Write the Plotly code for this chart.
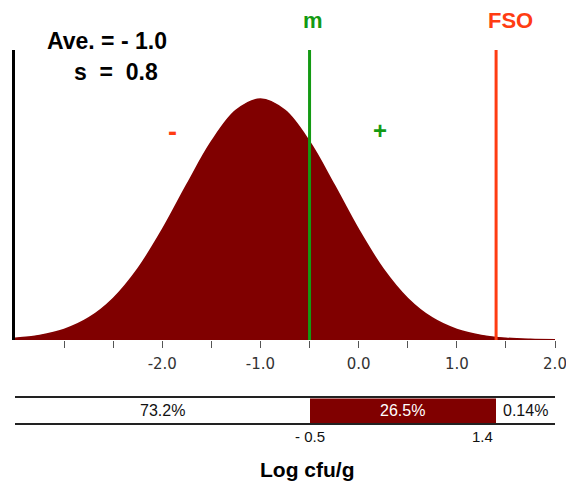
import plotly.graph_objects as go

# ---- data ----
mean_value = -1.0
sd_value = 0.8
curve_x = [-3.5, -3.25, -3.0, -2.75, -2.5, -2.25, -2.0, -1.75, -1.5, -1.25, -1.0,
           -0.75, -0.5, -0.25, 0.0, 0.25, 0.5, 0.75, 1.0, 1.25, 1.5, 1.75, 2.0]
curve_y = [0.0038, 0.0096, 0.0219, 0.0456, 0.0860, 0.1471, 0.2283, 0.3214, 0.4102, 0.4750, 0.4987,
           0.4750, 0.4102, 0.3214, 0.2283, 0.1471, 0.0860, 0.0456, 0.0219, 0.0096, 0.0038, 0.0014, 0.0004]
m_value = -0.5
fso_value = 1.4
tick_values = [-3.0, -2.5, -2.0, -1.5, -1.0, -0.5, 0.0, 0.5, 1.0, 1.5, 2.0]
tick_labels = ["", "", "-2.0", "", "-1.0", "", "0.0", "", "1.0", "", "2.0"]
segment_bounds = [-3.5, -0.5, 1.4, 2.0]
segment_labels = ["73.2%", "26.5%", "0.14%"]
x_range = [-3.5, 2.0]
y_range = [0, 0.6]

DARK_RED = "#800000"
GREEN = "#139a13"
ORANGE = "#ff3c12"
BOLD = "Liberation Sans, Arial, sans-serif"
REG = "Liberation Sans, Arial, sans-serif"

fig = go.Figure()

fig.add_trace(go.Scatter(
    x=curve_x, y=curve_y, mode="lines", line=dict(color=DARK_RED, width=1.5, shape="spline"),
    fill="tozeroy", fillcolor=DARK_RED, hoverinfo="skip", showlegend=False,
    xaxis="x", yaxis="y"))

starts = segment_bounds[:-1]
widths = [b - a for a, b in zip(segment_bounds[:-1], segment_bounds[1:])]
seg_colors = ["white", DARK_RED, "white"]
seg_text_colors = ["#111", "white", "#111"]
fig.add_trace(go.Bar(
    x=widths, base=starts, y=[0, 0, 0], orientation="h", width=1,
    marker=dict(color=seg_colors, line=dict(width=0)),
    hoverinfo="skip", showlegend=False, xaxis="x2", yaxis="y2"))

# vertical reference lines
fig.add_shape(type="line", xref="x", yref="y domain", x0=m_value, x1=m_value, y0=0, y1=1,
              line=dict(color=GREEN, width=3))
fig.add_shape(type="line", xref="x", yref="y domain", x0=fso_value, x1=fso_value, y0=0, y1=1,
              line=dict(color=ORANGE, width=3))

ann = []
for s, w, lab, col in zip(starts, widths, segment_labels, seg_text_colors):
    ann.append(dict(text=lab, xref="x2", yref="y2", x=s + w / 2, y=0,
                    xanchor="center", yanchor="middle", showarrow=False,
                    font=dict(size=16, color=col, family=REG)))
ann.append(dict(text="<b>Ave. = - 1.0</b>", xref="paper", yref="paper", x=0.0556, y=1.024,
                xanchor="left", yanchor="middle", showarrow=False,
                font=dict(size=23, color="black", family=BOLD)))
ann.append(dict(text="<b>s \u00a0= \u00a00.8</b>", xref="paper", yref="paper", x=0.105, y=0.941,
                xanchor="left", yanchor="middle", showarrow=False,
                font=dict(size=23, color="black", family=BOLD)))
ann.append(dict(text="<b>m</b>", xref="x", yref="paper", x=m_value, xshift=3, y=1.078,
                xanchor="center", yanchor="middle", showarrow=False,
                font=dict(size=22, color=GREEN, family=BOLD)))
ann.append(dict(text="<b>FSO</b>", xref="x", yref="paper", x=fso_value, xshift=14, y=1.078,
                xanchor="center", yanchor="middle", showarrow=False,
                font=dict(size=22, color=ORANGE, family=BOLD)))
ann.append(dict(text="<b>-</b>", xref="x", yref="y", x=-1.9, y=0.431,
                xanchor="center", yanchor="middle", showarrow=False,
                font=dict(size=27, color=ORANGE, family=BOLD)))
ann.append(dict(text="<b>+</b>", xref="x", yref="y", x=0.215, y=0.434,
                xanchor="center", yanchor="middle", showarrow=False,
                font=dict(size=24, color=GREEN, family=BOLD)))
ann.append(dict(text="- 0.5", xref="x", yref="paper", x=m_value, y=-0.035,
                xanchor="center", yanchor="middle", showarrow=False,
                font=dict(size=15, color="#111", family=REG)))
ann.append(dict(text="1.4", xref="x", yref="paper", x=fso_value, xshift=-1, y=-0.035,
                xanchor="right", yanchor="middle", showarrow=False,
                font=dict(size=15, color="#111", family=REG)))
ann.append(dict(text="<b>Log cfu/g</b>", xref="paper", yref="paper", x=0.54, y=-0.126,
                xanchor="center", yanchor="middle", showarrow=False,
                font=dict(size=21, color="black", family=BOLD)))

# the page adds an 8 px body margin, so the figure is sized to fit inside the window
fig.update_layout(
    width=566, height=479,
    margin=dict(l=7, r=19, t=42, b=64),
    paper_bgcolor="white", plot_bgcolor="white",
    showlegend=False,
    annotations=ann,
    xaxis=dict(range=x_range, anchor="y", tickvals=tick_values, ticktext=tick_labels,
               ticks="outside", ticklen=7, tickcolor="#555", tickwidth=1,
               ticklabelstandoff=3,
               tickfont=dict(size=15, color="#333", family="DejaVu Sans"),
               showline=False, showgrid=False, zeroline=False, fixedrange=True),
    yaxis=dict(range=y_range, domain=[0.2225, 1], showline=True, linecolor="black", linewidth=3,
               ticks="", showticklabels=False, showgrid=False, zeroline=False),
    xaxis2=dict(range=x_range, anchor="y2", matches="x", showline=True, mirror=True,
                linecolor="#222", linewidth=1.5, ticks="", showticklabels=False,
                showgrid=False, zeroline=False),
    yaxis2=dict(range=[-0.5, 0.5], domain=[0, 0.066], showline=False, ticks="",
                showticklabels=False, showgrid=False, zeroline=False),
    bargap=0,
)

fig.write_html("out.html")
